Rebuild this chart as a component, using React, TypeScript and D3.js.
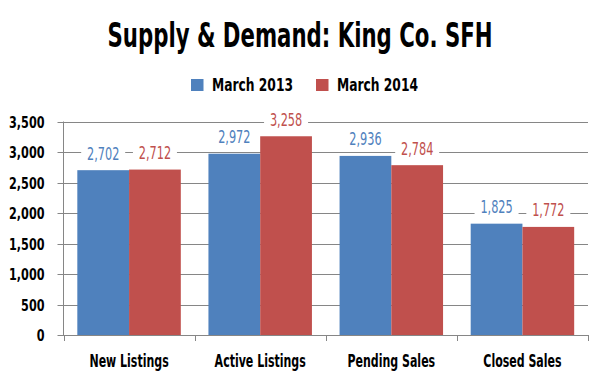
import React, { useLayoutEffect, useRef, useState } from "react";
import * as d3 from "d3";

const categories = ["New Listings", "Active Listings", "Pending Sales", "Closed Sales"];
const seriesNames = ["March 2013", "March 2014"];
const march2013 = [2702, 2972, 2936, 1825];
const march2014 = [2712, 3258, 2784, 1772];
const yTicks = [0, 500, 1000, 1500, 2000, 2500, 3000, 3500];
const colors = ["#4F81BD", "#C0504D"];
const title = "Supply & Demand: King Co. SFH";

const W = 600, H = 381;
const M = { left: 63.5, right: 588, top: 121.5, bottom: 335 };
const FONT = "'DejaVu Sans Condensed', 'DejaVu Sans', sans-serif";
const fmt = d3.format(",");

export default function App() {
  const titleRef = useRef<SVGTextElement>(null);
  const legRef = useRef<SVGTextElement>(null);
  const [titleScale, setTitleScale] = useState(0.7);
  const [legScale, setLegScale] = useState(0.75);
  useLayoutEffect(() => {
    const el = titleRef.current;
    if (el) {
      const w = el.getComputedTextLength();
      if (w > 0) setTitleScale(385 / w);
    }
    const l = legRef.current;
    if (l) {
      const w = l.getComputedTextLength();
      if (w > 0) setLegScale(81 / w);
    }
  }, []);

  const x = d3.scaleBand<string>().domain(categories).range([M.left, M.right]).paddingInner(0).paddingOuter(0);
  const inner = d3.scaleBand<string>().domain(seriesNames).range([0, x.bandwidth()]).paddingOuter(0.267).paddingInner(0);
  const y = d3.scaleLinear().domain([0, 3500]).range([M.bottom, M.top]);
  const series = [march2013, march2014];

  return (
    <svg width={W} height={H} style={{ position: "absolute", left: 0, top: 0, background: "#fff" }}>
      <rect width={W} height={H} fill="#fff" />
      <text ref={titleRef} transform={`translate(300,47) scale(${titleScale},1)`} textAnchor="middle" fontFamily={FONT} fontSize={34} fontWeight="bold" fill="#000">{title}</text>
      {/* legend */}
      {seriesNames.map((s, i) => {
        const lx = i === 0 ? 191 : 316;
        return (
          <g key={s}>
            <rect x={lx} y={79} width={12.5} height={12} fill={colors[i]} />
            <text ref={i === 0 ? legRef : undefined} transform={`translate(${lx + 21},90.7) scale(${legScale},1)`} fontFamily={FONT} fontSize={17} fontWeight="bold" fill="#000">{s}</text>
          </g>
        );
      })}
      {/* gridlines */}
      {yTicks.map((t) => (
        <g key={t}>
          <line x1={M.left - 6} x2={M.right} y1={Math.round(y(t)) + 0.5} y2={Math.round(y(t)) + 0.5} stroke="#868686" strokeWidth={1} />
          <text transform={`translate(44.5,${y(t) + 6}) scale(0.78,1)`} textAnchor="end" fontFamily={FONT} fontSize={16} fontWeight="bold" fill="#000">{fmt(t)}</text>
        </g>
      ))}
      <line x1={M.left} x2={M.left} y1={M.top} y2={M.bottom} stroke="#868686" />
      {/* x ticks */}
      {[...categories.map((c) => x(c) as number), M.right].map((px, i) => (
        <line key={i} x1={Math.round(px) + 0.5} x2={Math.round(px) + 0.5} y1={M.bottom} y2={M.bottom + 6} stroke="#868686" />
      ))}
      {/* bars */}
      {categories.map((c, ci) => (
        <g key={c}>
          {seriesNames.map((s, si) => {
            const v = series[si][ci];
            const bx = (x(c) as number) + (inner(s) as number);
            return <rect key={s} x={bx} y={y(v)} width={inner.bandwidth()} height={y(0) - y(v)} fill={colors[si]} />;
          })}
        </g>
      ))}
      {/* data labels */}
      {categories.map((c, ci) => (
        <g key={c + "l"}>
          {seriesNames.map((s, si) => {
            const v = series[si][ci];
            const cx = (x(c) as number) + (inner(s) as number) + inner.bandwidth() / 2;
            const by = y(v) - 10.5;
            return (
              <g key={s}>
                <rect x={cx - 22} y={by - 15} width={44} height={19} fill="#fff" />
                <text transform={`translate(${cx},${by}) scale(0.74,1)`} textAnchor="middle" fontFamily={FONT} fontSize={17} fill={colors[si]}>{fmt(v)}</text>
              </g>
            );
          })}
        </g>
      ))}
      {/* category labels */}
      {categories.map((c) => (
        <text key={c + "c"} transform={`translate(${(x(c) as number) + x.bandwidth() / 2},366.5) scale(0.68,1)`} textAnchor="middle" fontFamily={FONT} fontSize={18} fontWeight="bold" fill="#000">{c}</text>
      ))}
    </svg>
  );
}
